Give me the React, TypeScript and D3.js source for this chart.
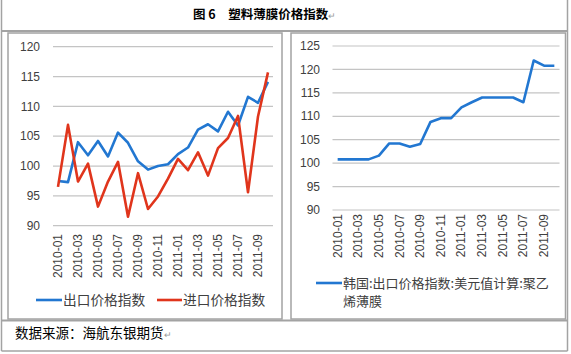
import * as d3 from 'd3';
import React from 'react';

// months on the x axis (both panels)
const months = [
  '2010-01', '2010-02', '2010-03', '2010-04', '2010-05', '2010-06', '2010-07', '2010-08',
  '2010-09', '2010-10', '2010-11', '2010-12', '2011-01', '2011-02', '2011-03', '2011-04',
  '2011-05', '2011-06', '2011-07', '2011-08', '2011-09', '2011-10',
];
const tickMonths = ['2010-01', '2010-03', '2010-05', '2010-07', '2010-09', '2010-11', '2011-01', '2011-03', '2011-05', '2011-07', '2011-09'];

// left panel: export / import price index
const exportIndex = [
  97.5, 97.3, 104.0, 101.8, 104.2, 101.6, 105.6, 103.9, 100.8, 99.4, 100.0,
  100.3, 102.0, 103.1, 106.1, 107.0, 105.8, 109.1, 106.8, 111.6, 110.6, 114.1,
];
const importIndex = [
  96.5, 106.9, 97.4, 100.4, 93.2, 97.4, 100.7, 91.5, 98.8, 92.8, 94.9,
  97.9, 101.2, 99.3, 102.3, 98.4, 103.0, 104.7, 108.4, 95.6, 108.3, 115.7,
];
const leftTicks = [90, 95, 100, 105, 110, 115, 120];

// right panel: Korea export price index, PE film
const koreaIndex = [
  100.8, 100.8, 100.8, 100.8, 101.6, 104.2, 104.2, 103.5, 104.1, 108.8, 109.6,
  109.6, 111.9, 113.0, 114.0, 114.0, 114.0, 114.0, 113.0, 121.9, 120.8, 120.8,
];
const rightTicks = [90, 95, 100, 105, 110, 115, 120, 125];

const BLUE = '#2277d1';
const RED = '#e0351c';
const GRID = '#c4c4c4';
const BORDER = '#a3a3a3';
const NUM_FONT = '"Liberation Sans", Arial, sans-serif';
const CJK_FONT = '"Noto Sans CJK SC", sans-serif';

type Series = { values: number[]; color: string };

function Panel({ x0, x1, yTop, yBottom, domain, ticks, series, labelRight, labelTop }: {
  x0: number; x1: number; yTop: number; yBottom: number; domain: [number, number];
  ticks: number[]; series: Series[]; labelRight: number; labelTop: number;
}) {
  const x = d3.scaleBand<string>().domain(months).range([x0, x1]);
  const y = d3.scaleLinear().domain(domain).range([yBottom, yTop]);
  const cx = (m: string) => (x(m) ?? 0) + x.bandwidth() / 2;
  const line = d3.line<number>().x((_, i) => cx(months[i])).y((d) => y(d));
  return (
    <g>
      {ticks.map((t) => (
        <g key={t}>
          <line x1={x0} x2={x1} y1={y(t)} y2={y(t)} stroke={GRID} strokeWidth={1.2} />
          <text x={labelRight} y={y(t)} dy="0.35em" textAnchor="end" fontFamily={NUM_FONT} fontSize={12} fill="#404040">{t}</text>
        </g>
      ))}
      {tickMonths.map((m) => (
        <text key={m} transform={`translate(${cx(m) + 4},${labelTop}) rotate(-90)`} textAnchor="end"
          fontFamily={NUM_FONT} fontSize={12} fill="#404040">{m}</text>
      ))}
      {series.map((s, i) => (
        <path key={i} d={line(s.values) ?? ''} fill="none" stroke={s.color} strokeWidth={2.6} strokeLinejoin="round" />
      ))}
    </g>
  );
}

export default function App() {
  return (
    <svg width={571} height={354} style={{ position: 'absolute', left: 0, top: 0, background: '#fff' }}>
      {/* table frame */}
      <line x1={1.5} x2={1.5} y1={0} y2={351} stroke={BORDER} strokeWidth={1.5} />
      <line x1={567.5} x2={567.5} y1={0} y2={351} stroke={BORDER} strokeWidth={1.5} />
      <line x1={1.5} x2={567.5} y1={31} y2={31} stroke={BORDER} strokeWidth={2} />
      <line x1={1.5} x2={567.5} y1={320.5} y2={320.5} stroke={BORDER} strokeWidth={2} />
      <line x1={1.5} x2={567.5} y1={351} y2={351} stroke={BORDER} strokeWidth={1.5} />
      <rect x={8} y={33} width={274} height={286} fill="#fff" stroke={BORDER} strokeWidth={1.5} />
      <rect x={291} y={33} width={274.5} height={286} fill="#fff" stroke={BORDER} strokeWidth={1.5} />

      <text x={193} y={19} fontFamily={CJK_FONT} fontSize={12.5} fontWeight="bold" fill="#000">
        图 6　塑料薄膜价格指数<tspan fill="#999" fontWeight="normal" fontSize={9}>↵</tspan>
      </text>

      <Panel x0={53} x1={273} yTop={46.7} yBottom={225.7} domain={[90, 120]} ticks={leftTicks}
        labelRight={40} labelTop={234}
        series={[{ values: exportIndex, color: BLUE }, { values: importIndex, color: RED }]} />
      <Panel x0={332.5} x1={559.5} yTop={46} yBottom={210} domain={[90, 125]} ticks={rightTicks}
        labelRight={320} labelTop={214}
        series={[{ values: koreaIndex, color: BLUE }]} />

      {/* left legend */}
      <line x1={36} x2={62} y1={300} y2={300} stroke={BLUE} strokeWidth={2.6} />
      <text x={63} y={305} fontFamily={CJK_FONT} fontSize={13.7} fill="#404040">出口价格指数</text>
      <line x1={157} x2={182} y1={300} y2={300} stroke={RED} strokeWidth={2.6} />
      <text x={183} y={305} fontFamily={CJK_FONT} fontSize={13.7} fill="#404040">进口价格指数</text>

      {/* right legend */}
      <line x1={316} x2={342} y1={283} y2={283} stroke={BLUE} strokeWidth={2.6} />
      <text x={343} y={287.5} fontFamily={CJK_FONT} fontSize={13} fill="#404040">韩国:出口价格指数:美元值计算:聚乙</text>
      <text x={343} y={305.5} fontFamily={CJK_FONT} fontSize={13} fill="#404040">烯薄膜</text>

      <text x={15} y={338} fontFamily={CJK_FONT} fontSize={13.5} fill="#000">
        数据来源：海航东银期货<tspan fill="#999" fontSize={9}>↵</tspan>
      </text>
    </svg>
  );
}
